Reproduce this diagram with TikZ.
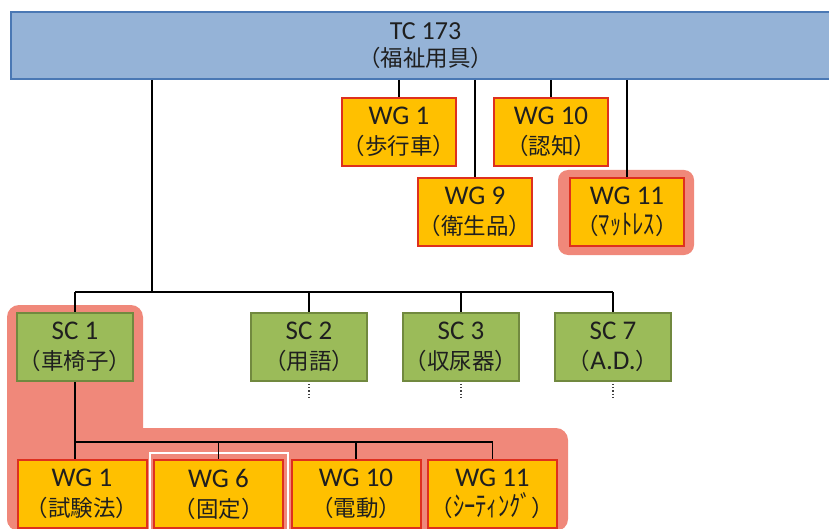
\documentclass[tikz,border=0pt]{standalone}
\usepackage{fontspec}
\setmainfont{Carlito}
\newfontfamily\jp{Noto Sans CJK JP}
\definecolor{tcfill}{RGB}{149,179,215}
\definecolor{tcdraw}{RGB}{74,120,180}
\definecolor{scfill}{RGB}{155,187,89}
\definecolor{scdraw}{RGB}{113,137,63}
\definecolor{wgfill}{RGB}{255,192,0}
\definecolor{wgdraw}{RGB}{222,48,30}
\definecolor{hl}{RGB}{240,136,122}
\newcommand\jl[1]{{\jp\fontsize{22.5}{30}\selectfont #1}}
\newcommand\tallkana[1]{\scalebox{1}[1.25]{#1}}
\begin{document}
\begin{tikzpicture}[x=1pt,y=-1pt,
  basebox/.style={inner sep=0pt, align=center, font=\fontsize{27}{30}\selectfont, text=black!88},
  tcbox/.style={basebox, draw=tcdraw, fill=tcfill, line width=2pt, minimum width=829pt, minimum height=67pt, font=\fontsize{26}{27}\selectfont},
  scbox/.style={basebox, draw=scdraw, fill=scfill, line width=1.5pt, minimum width=116pt, minimum height=68pt},
  wgbox/.style={basebox, draw=wgdraw, fill=wgfill, line width=2pt, minimum width=114pt, minimum height=68pt},
  wgbbox/.style={wgbox, minimum width=129pt},
  link/.style={draw=black, line width=1.2pt},
  tail/.style={draw=black!75, line width=1.3pt, dotted}
]
\useasboundingbox (0,0) rectangle (829,529);
\fill[white] (0,0) rectangle (829,529);

% highlights
\fill[hl, rounded corners=12pt] (7,305) rectangle (143,531);
\fill[hl, rounded corners=12pt] (7,428) rectangle (568,531);
\fill[hl, rounded corners=10pt] (558,170) rectangle (694,255);
\draw[white, line width=2pt] (150,453) rectangle (288,535);

% top
\node[tcbox] (tc) at (425.5,45.5) {TC 173\\\jl{（福祉用具）}};

\node[wgbox] (w1) at (399,132) {WG 1\\\jl{（歩行車）}};
\node[wgbox] (w10) at (551,132) {WG 10\\\jl{（認知）}};
\node[wgbox] (w9) at (475,212) {WG 9\\\jl{（衛生品）}};
\node[wgbox] (w11) at (627,212) {WG 11\\\jl{（\tallkana{ﾏｯﾄﾚｽ}）}};

% SC row
\node[scbox] (sc1) at (75,347) {SC 1\\\jl{（車椅子）}};
\node[scbox] (sc2) at (309,347) {SC 2\\\jl{（用語）}};
\node[scbox] (sc3) at (461,347) {SC 3\\\jl{（収尿器）}};
\node[scbox] (sc7) at (613,347) {SC 7\\\jl{（}A.D.\jl{）}};

% bottom row
\node[wgbbox] (b1) at (82,494) {WG 1\\\jl{（試験法）}};
\node[wgbbox] (b6) at (218.5,494) {WG 6\\\jl{（固定）}};
\node[wgbbox] (b10) at (356,494) {WG 10\\\jl{（電動）}};
\node[wgbbox] (b11) at (492.5,494) {WG 11\\\jl{（\tallkana{ｼｰﾃｨﾝｸﾞ}）}};

% connectors
\coordinate (trunk) at (152,292);
\coordinate (bus2) at (75,442);
\draw[link] (tc.south -| trunk) -- (trunk);
\draw[link] (sc1.north |- trunk) -- (sc7.north |- trunk);
\foreach \n in {sc1,sc2,sc3,sc7} \draw[link] (\n.north |- trunk) -- (\n.north);
\foreach \n in {w1,w10,w9,w11} \draw[link] (tc.south -| \n.north) -- (\n.north);
\draw[link] (sc1.south) -- (sc1.south |- b1.north);
\draw[link] (bus2) -- (bus2 -| b11.north);
\foreach \n in {b6,b10,b11} \draw[link] (bus2 -| \n.north) -- (\n.north);
\foreach \n in {sc2,sc3,sc7} \draw[tail] ([yshift=-2pt]\n.south) -- ++(0,16);
\end{tikzpicture}
\end{document}
